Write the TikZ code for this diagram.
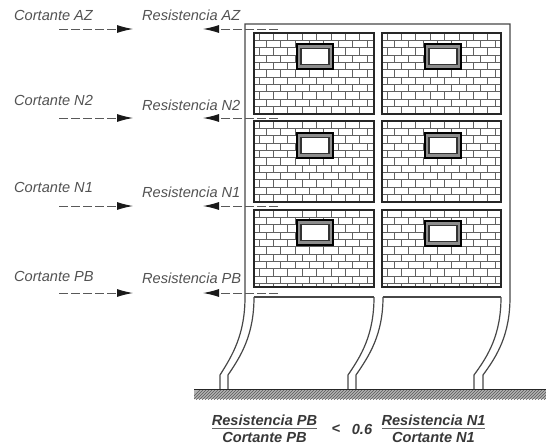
\documentclass[tikz,border=0pt]{standalone}
\usepackage{fontspec}
\setmainfont{Liberation Sans}
\usepackage{tikz}
\usetikzlibrary{arrows.meta, positioning}

\begin{document}
\begin{tikzpicture}[x=1pt, y=-1pt,
  lbl/.style={font=\fontsize{14.6}{16}\selectfont\itshape, text=black!68, inner sep=0pt, anchor=west},
  frc/.style={font=\fontsize{14.6}{16}\selectfont\itshape\bfseries, text=black!78, inner sep=0pt},
  frm/.style={draw=black!72, line width=1.2pt},
  pnl/.style={draw=black!85, line width=1.2pt},
  brk/.style={draw=black!62, line width=1pt},
  frc line/.style={draw=black!60, line width=1pt},
  load/.style={draw=black!65, line width=1pt, dash pattern=on 9pt off 3pt,
               -{Latex[length=16pt, width=8pt, black!90]}}]

  \useasboundingbox (0,0) rectangle (546,447);
  \def\course{7.35}
  \def\brick{14.4}

  % Frame and the bent columns
  \draw[frm] (220,389) -- (220,375) .. controls (232,356) and (245,335) .. (245,297)
    -- (245,24) -- (510,24) -- (510,297) .. controls (510,335) and (497,356) .. (483,375) -- (483,389);
  \draw[frm] (254,297) .. controls (254,335) and (241,356) .. (228,375) -- (228,389);
  \draw[frm] (374,297) .. controls (374,335) and (361,356) .. (348,375) -- (348,389);
  \draw[frm] (383,297) .. controls (383,335) and (369,356) .. (356,375) -- (356,389);
  \draw[frm] (501,297) .. controls (501,335) and (488,356) .. (474,375) -- (474,389);
  \draw[frm] (254,297) -- (374,297);
  \draw[frm] (383,297) -- (501,297);

  % Brick panels: left, right, top, bottom
  \foreach \xa/\xb/\ya/\yb in {254/374/33/114, 382/501/33/114,
                               254/374/121/202, 382/501/121/202,
                               254/374/210/287, 382/501/210/287} {
    \begin{scope}
      \clip (\xa,\ya) rectangle (\xb,\yb);
      \foreach \i in {0,...,11} {
        \pgfmathsetmacro{\yy}{\ya+\i*\course}
        \draw[brk] (\xa,\yy) -- (\xb,\yy);
        \pgfmathsetmacro{\off}{mod(\i,2)*0.5*\brick}
        \foreach \j in {0,...,8} {
          \draw[brk] (\xa+\off+\j*\brick+5,\yy) -- ++(0,\course);
        }
      }
    \end{scope}
    \draw[pnl] (\xa,\ya) rectangle (\xb,\yb);
  }

  % Windows
  \foreach \xa/\ya in {297/44, 425/44, 297/133, 425/133, 297/220, 425/221} {
    \draw[draw=black, line width=2.6pt, fill=black!45] (\xa,\ya) rectangle ++(36,25);
    \draw[draw=black!80, line width=1.2pt, fill=white] (\xa+4,\ya+4.5) rectangle ++(28,16);
  }

  % Ground
  \begin{scope}
    \clip (194,389) rectangle (546,399);
    \fill[black!30] (194,389) rectangle (546,399);
    \foreach \i in {0,...,120} {
      \draw[black!65, line width=0.6pt] (190+\i*3,400) -- ++(11,-11);
    }
  \end{scope}
  \draw[draw=black!85, line width=1pt] (194,389) -- (546,389);

  % Shear and strength per storey
  \node[lbl] (cortAZ) at (14,15)  {Cortante AZ};
  \node[lbl] (resAZ)  at (142,15) {Resistencia AZ};
  \node[lbl] (cortN2) at (14,100) {Cortante N2};
  \node[lbl] (resN2)  at (142,105) {Resistencia N2};
  \node[lbl] (cortN1) at (14,187) {Cortante N1};
  \node[lbl] (resN1)  at (142,192) {Resistencia N1};
  \node[lbl] (cortPB) at (14,276) {Cortante PB};
  \node[lbl] (resPB)  at (142,278) {Resistencia PB};

  \foreach \nm/\yy in {AZ/29, N2/118, N1/206, PB/293} {
    \coordinate (ca\nm) at (59,\yy);
    \coordinate (cb\nm) at (133,\yy);
    \coordinate (ra\nm) at (278,\yy);
    \coordinate (rb\nm) at (203,\yy);
    \draw[load] (ca\nm) -- (cb\nm);
    \draw[load] (ra\nm) -- (rb\nm);
  }

  % Ratio
  \node[frc] (numPB) at (264.5,420) {Resistencia PB};
  \node[frc] (denPB) at (264.5,437) {Cortante PB};
  \node[frc] (lt) at (336,429) {<};
  \node[frc] (val) at (362,429) {0.6};
  \node[frc] (numN1) at (433.5,420) {Resistencia N1};
  \node[frc] (denN1) at (433.5,437) {Cortante N1};
  \draw[frc line] (212,428.5) -- (317,428.5);
  \draw[frc line] (382,428.5) -- (485,428.5);

\end{tikzpicture}
\end{document}
